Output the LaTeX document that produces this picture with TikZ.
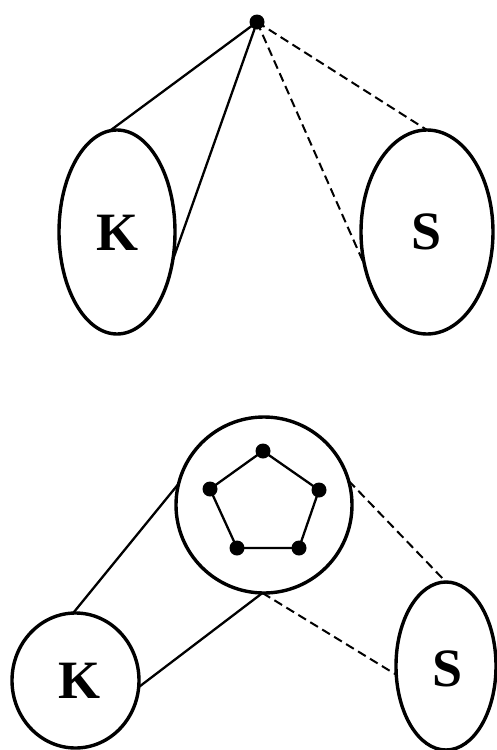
\documentclass[tikz,border=0pt]{standalone}
\usepackage{fontspec}
\setmainfont{Liberation Serif}
\usetikzlibrary{shapes.geometric}
\begin{document}
\begin{tikzpicture}[x=1pt,y=-1pt,
  blob/.style={ellipse,draw,line width=3.4pt,inner sep=0pt,outer sep=0pt},
  lbl/.style={font=\fontsize{54}{54}\selectfont\bfseries},
  vdot/.style={circle,fill,inner sep=0pt,outer sep=0pt,minimum size=15pt},
  solidline/.style={line width=2.3pt},
  dashline/.style={line width=2pt,dash pattern=on 9pt off 5pt}]
\useasboundingbox (0,0) rectangle (496,750);
% top
\node[vdot] (top) at (257,22) {};
\node[blob,minimum width=116pt,minimum height=204pt] (K1) at (117,232) {};
\node[blob,minimum width=132pt,minimum height=204pt] (S1) at (427,232) {};
\node[lbl] (K1t) at (118,233) {K};
\node[lbl] (S1t) at (427,232) {S};
\draw[solidline] (top.center) -- (K1.94);
\draw[solidline] (top.center) -- (K1.-27);
\draw[dashline] (top.center) -- (S1.90);
\draw[dashline] (top.center) -- (S1.208.7);
% bottom
\node[blob,circle,minimum size=176pt] (C) at (264,505) {};
\node[vdot] (p1) at (263,451) {};
\node[vdot] (p2) at (319,490) {};
\node[vdot] (p3) at (299,548) {};
\node[vdot] (p4) at (237,548) {};
\node[vdot] (p5) at (210,489) {};
\draw[solidline] (p1.center) -- (p2.center) -- (p3.center) -- (p4.center) -- (p5.center) -- cycle;
\node[blob,minimum width=127pt,minimum height=135pt] (K2) at (75.5,680.5) {};
\node[blob,minimum width=100pt,minimum height=168pt] (S2) at (446,666) {};
\node[lbl] (K2t) at (80,681) {K};
\node[lbl] (S2t) at (448,669) {S};
\draw[solidline] (C.166) -- (K2.92);
\draw[solidline] (C.269) -- (K2.-6);
\draw[dashline] (C.16) -- (S2.90);
\draw[dashline] (C.269) -- (S2.190);
\end{tikzpicture}
\end{document}
